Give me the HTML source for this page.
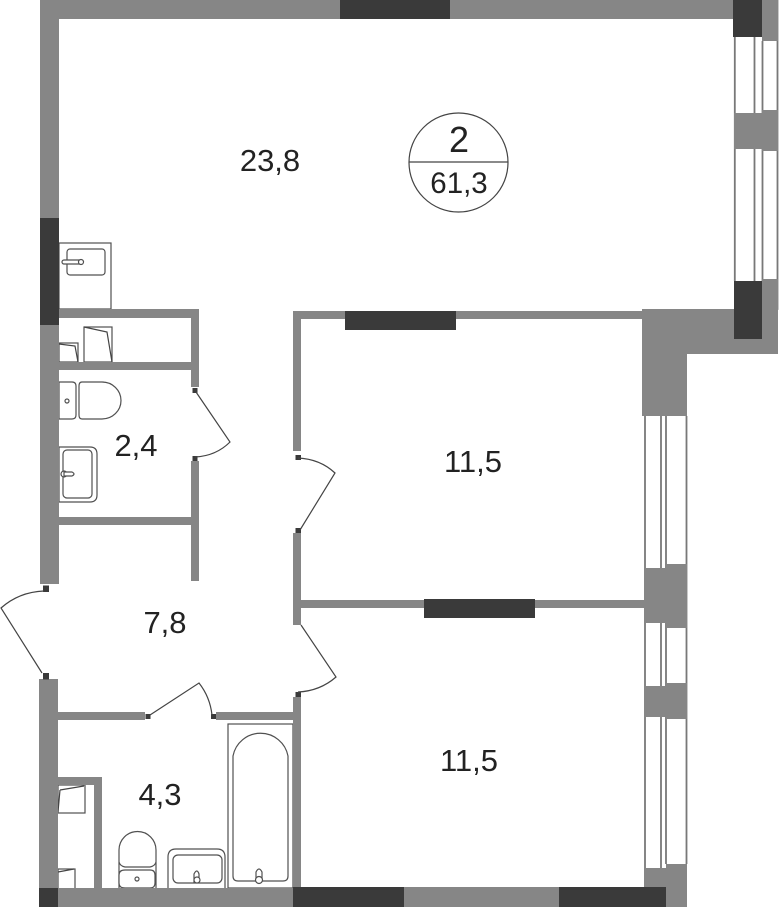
<!DOCTYPE html>
<html><head><meta charset="utf-8"><style>
html,body{margin:0;padding:0;background:#fff;width:779px;height:907px;overflow:hidden}
svg{display:block}
text{font-family:"Liberation Sans",sans-serif;fill:#222}
.g{fill:#868686}.d{fill:#3a3a3a}
.l{fill:none;stroke:#444;stroke-width:1.2}
.f{fill:#fff;stroke:#505050;stroke-width:1.2}
.w{fill:none;stroke:#787878;stroke-width:1.8}
</style></head><body>
<svg width="779" height="907" viewBox="0 0 779 907" xmlns="http://www.w3.org/2000/svg">
<!-- fixtures -->
<rect class="f" x="59" y="243" width="52" height="66"/>
<rect class="f" x="67" y="249" width="38" height="26" rx="3"/>
<rect class="f" x="62" y="260" width="20" height="4" rx="2"/><circle class="f" cx="81" cy="262" r="2.5"/>
<rect class="f" x="59" y="343" width="19" height="19"/><path class="l" d="M59 344L75 346L78 362"/>
<rect class="f" x="84" y="327" width="28" height="35"/><path class="l" d="M84 327L107 332L112 362"/>
<path class="f" d="M59 382H72Q76 382 76 386V415Q76 419 72 419H59Z"/>
<path class="f" d="M82 382H102A19 18.500 0 0 1 102 419H82Q79 419 79 415V386Q79 382 82 382Z"/>
<circle class="f" cx="67" cy="401" r="2"/>
<path class="f" d="M59 447H90Q97 447 97 454V495Q97 502 90 502H59Z"/>
<rect class="f" x="63" y="450" width="29" height="48" rx="4"/>
<circle class="f" cx="64" cy="474" r="3"/><path class="f" d="M64 472H72Q76 474 72 476H64Z"/>
<rect class="f" x="58" y="785" width="27" height="28"/><path class="l" d="M60 790L84 786M60 790L58 812"/>
<rect class="f" x="58" y="869" width="17" height="20"/><path class="l" d="M58 872L74 869"/>
<path class="f" d="M119 888V850A18.500 18.500 0 0 1 156 850V888"/>
<path class="f" d="M119 862Q120 866 125 867H150Q155 866 156 862"/>
<path class="f" d="M125 870H150Q155 870 155 875V883Q155 888 150 888H125Q119 888 119 883V875Q119 870 125 870Z"/>
<circle class="f" cx="137" cy="879" r="2"/>
<path class="f" d="M168 888V857Q168 849 176 849H217Q225 849 225 857V888"/>
<rect class="f" x="173" y="855" width="49" height="28" rx="5"/>
<path class="f" d="M194 882V874Q197 868 199 874V882Z"/><circle class="f" cx="197" cy="880" r="3"/>
<rect class="f" x="228" y="724" width="65" height="164"/>
<path class="f" d="M233 756A28 28 0 0 1 288 756V876Q288 881 283 881H238Q233 881 233 876Z"/>
<path class="f" d="M256 881V872Q259 866 262 872V881Z"/><circle class="f" cx="259" cy="880" r="3.500"/>
<!-- window frames -->
<path class="w" d="M734.800 37V281M754.500 37V281M762.500 41V309H777.500V0"/>
<path class="w" d="M645 414V868M661 414V868M666 416V864M686.500 416V864"/>
<!-- walls -->
<path class="g" d="M40 0H733V19H59V584H40Z"/>
<rect class="g" x="39" y="679" width="19" height="228"/>
<rect class="g" x="39" y="888" width="254" height="19"/>
<rect class="g" x="59" y="309" width="140" height="9"/>
<rect class="g" x="59" y="362" width="140" height="8"/>
<rect class="g" x="191" y="309" width="8" height="78"/>
<rect class="g" x="191" y="461" width="8" height="120"/>
<rect class="g" x="59" y="517" width="132" height="8"/>
<rect class="g" x="293" y="311" width="8" height="140"/>
<rect class="g" x="293" y="311" width="350" height="8"/>
<rect class="g" x="293" y="533" width="8" height="92"/>
<rect class="g" x="293" y="600" width="352" height="8"/>
<rect class="g" x="293" y="697" width="8" height="192"/>
<rect class="g" x="58" y="712" width="87" height="8"/>
<rect class="g" x="216" y="712" width="77" height="8"/>
<rect class="g" x="58" y="777" width="44" height="8"/>
<rect class="g" x="94" y="777" width="8" height="112"/>
<path class="g" d="M642 309H778V354H687V416H642Z"/>
<rect class="g" x="762" y="0" width="16" height="41"/>
<rect class="g" x="734" y="113" width="28" height="36"/>
<rect class="g" x="762" y="110" width="16" height="41"/>
<rect class="g" x="762" y="279" width="16" height="30"/>
<rect class="g" x="644" y="568" width="22" height="55"/>
<rect class="g" x="666" y="564" width="21" height="64"/>
<rect class="g" x="644" y="686" width="22" height="31"/>
<rect class="g" x="666" y="683" width="21" height="36"/>
<rect class="g" x="644" y="868" width="22" height="39"/>
<rect class="g" x="666" y="864" width="21" height="43"/>
<rect class="g" x="404" y="887" width="155" height="20"/>
<!-- dark -->
<rect class="d" x="340" y="0" width="110" height="19"/>
<rect class="d" x="733" y="0" width="29" height="37"/>
<rect class="d" x="734" y="281" width="28" height="58"/>
<rect class="d" x="40" y="218" width="19" height="107"/>
<rect class="d" x="345" y="311" width="111" height="19"/>
<rect class="d" x="424" y="599" width="111" height="19"/>
<rect class="d" x="39" y="888" width="19" height="19"/>
<rect class="d" x="293" y="887" width="111" height="20"/>
<rect class="d" x="559" y="887" width="107" height="20"/>
<!-- nodes -->
<rect class="d" x="192.500" y="388" width="5" height="5"/>
<rect class="d" x="192.500" y="456" width="5" height="5"/>
<rect class="d" x="295.500" y="455" width="5.500" height="5"/>
<rect class="d" x="295.500" y="528" width="5.500" height="5"/>
<rect class="d" x="295.500" y="692" width="5.500" height="5"/>
<rect class="d" x="43" y="585.500" width="6" height="6.500"/>
<rect class="d" x="43" y="673" width="6" height="6.500"/>
<rect class="d" x="145.500" y="714" width="5" height="5"/>
<rect class="d" x="211" y="714" width="5" height="5"/>
<!-- doors -->
<path class="l" d="M196 392L230 442Q216 456 195 457"/>
<path class="l" d="M298 458Q320 459 335 473L300 530"/>
<path class="l" d="M301 625L336 677Q320 691 298 692"/>
<path class="l" d="M44 591Q19 592 1 608L42 673"/>
<path class="l" d="M150 715L199 683Q210 697 212 715"/>
<!-- labels -->
<text x="270" y="171" font-size="31" text-anchor="middle">23,8</text>
<text x="473" y="472" font-size="31" text-anchor="middle">11,5</text>
<text x="469" y="771" font-size="31" text-anchor="middle">11,5</text>
<text x="136" y="456" font-size="31" text-anchor="middle">2,4</text>
<text x="165" y="633" font-size="31" text-anchor="middle">7,8</text>
<text x="160" y="805" font-size="31" text-anchor="middle">4,3</text>
<circle cx="458.500" cy="162.500" r="49.500" fill="none" stroke="#444" stroke-width="1.200"/>
<path d="M409 162H508" stroke="#444" stroke-width="1.200"/>
<text x="459" y="152" font-size="36" text-anchor="middle">2</text>
<text x="459" y="193" font-size="29.500" text-anchor="middle">61,3</text>
</svg>
</body></html>
